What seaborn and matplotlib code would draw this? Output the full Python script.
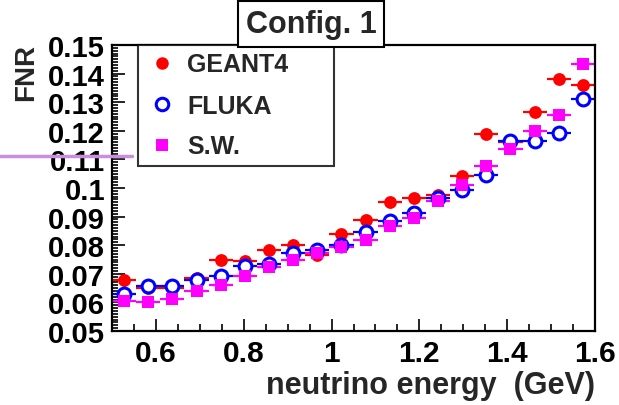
import numpy as np
import pandas as pd
import matplotlib
matplotlib.use("Agg")
import matplotlib.pyplot as plt
from matplotlib.lines import Line2D
from matplotlib.ticker import MultipleLocator
import seaborn as sns

# ---- data ----
bin_lo = 0.5
bin_width = 0.055
energy = [0.5275, 0.5825, 0.6375, 0.6925, 0.7475, 0.8025, 0.8575, 0.9125, 0.9675, 1.0225,
          1.0775, 1.1325, 1.1875, 1.2425, 1.2975, 1.3525, 1.4075, 1.4625, 1.5175, 1.5725]
geant4 = [0.0679, 0.0649, 0.0652, 0.0685, 0.0747, 0.0745, 0.0782, 0.0802, 0.0765, 0.0840,
          0.0888, 0.0951, 0.0965, 0.0974, 0.1041, 0.1188, 0.1162, 0.1265, 0.1382, 0.1359]
fluka = [0.0629, 0.0659, 0.0659, 0.0679, 0.0691, 0.0729, 0.0735, 0.0774, 0.0782, 0.0800,
         0.0847, 0.0885, 0.0912, 0.0965, 0.0994, 0.1047, 0.1165, 0.1165, 0.1194, 0.1312]
sw = [0.0606, 0.0602, 0.0612, 0.0641, 0.0661, 0.0691, 0.0724, 0.0747, 0.0774, 0.0794,
      0.0818, 0.0867, 0.0894, 0.0955, 0.1009, 0.1076, 0.1135, 0.1200, 0.1256, 0.1435]
series_names = ["GEANT4", "FLUKA", "S.W."]
x_ticks = [0.6, 0.8, 1.0, 1.2, 1.4, 1.6]
x_ticklabels = ["0.6", "0.8", "1", "1.2", "1.4", "1.6"]
y_ticks = [0.05, 0.06, 0.07, 0.08, 0.09, 0.10, 0.11, 0.12, 0.13, 0.14, 0.15]
y_ticklabels = ["0.05", "0.06", "0.07", "0.08", "0.09", "0.1", "0.11", "0.12", "0.13", "0.14", "0.15"]

df = pd.DataFrame({
    "energy": energy * 3,
    "FNR": geant4 + fluka + sw,
    "model": sum([[n] * len(energy) for n in series_names], []),
})

sns.set_style("white")
plt.rcParams["font.family"] = ["Liberation Sans", "DejaVu Sans"]
plt.rcParams["font.weight"] = "bold"

fig = plt.figure(figsize=(6.19, 4.06), dpi=100)
ax = fig.add_axes([112 / 619, 1 - 332 / 406, 483 / 619, 286 / 406])

styles = {
    "GEANT4": dict(marker="o", color="#ff0000", fill=True, s=85),
    "FLUKA": dict(marker="o", color="#0000ff", fill=False, s=85),
    "S.W.": dict(marker="s", color="#ff00ff", fill=True, s=80),
}

handles = []
for name in series_names:
    st = styles[name]
    sub = df[df["model"] == name]
    ax.errorbar(sub["energy"], sub["FNR"], xerr=bin_width / 2, fmt="none",
                ecolor=st["color"], elinewidth=1.6, capsize=0, zorder=2)
    sns.scatterplot(data=sub, x="energy", y="FNR", ax=ax, marker=st["marker"],
                    color=st["color"], s=st["s"], linewidth=0,
                    edgecolor=st["color"], zorder=3, legend=False)
    coll = ax.collections[-1]
    if not st["fill"]:
        coll.set_facecolor("white")
        coll.set_edgecolor(st["color"])
        coll.set_linewidth(2.2)
    handles.append(Line2D([], [], linestyle="none", marker=st["marker"],
                          markersize=9 if st["marker"] == "o" else 8.5,
                          markerfacecolor=st["color"] if st["fill"] else "white",
                          markeredgecolor=st["color"], markeredgewidth=2.2 if not st["fill"] else 0,
                          label=name))

ax.set_xlim(bin_lo, 1.6)
ax.set_ylim(0.05, 0.15)
ax.set_xticks(x_ticks)
ax.set_xticklabels(x_ticklabels)
ax.set_yticks(y_ticks)
ax.set_yticklabels(y_ticklabels)
ax.xaxis.set_minor_locator(MultipleLocator(0.05))
ax.yaxis.set_minor_locator(MultipleLocator(0.001))
ax.tick_params(which="both", direction="in", top=False, right=False, bottom=True, left=True,
               width=1.2, colors="black")
ax.tick_params(axis="x", which="major", length=9, pad=6, labelsize=21.5)
ax.tick_params(axis="x", which="minor", length=5)
ax.tick_params(axis="y", which="major", length=9, pad=5, labelsize=21)
ax.tick_params(axis="y", which="minor", length=4)
for lab in ax.get_xticklabels() + ax.get_yticklabels():
    lab.set_fontweight("bold")
for sp in ax.spines.values():
    sp.set_visible(True)
    sp.set_color("black")
    sp.set_linewidth(1.6)

ax.set_xlabel("neutrino energy  (GeV)", fontsize=22, fontweight="bold", loc="right")
ax.xaxis.set_label_coords(1.0, -0.135)
ax.set_ylabel("")
fig.text(26 / 619, 1 - 44 / 406, "FNR", fontsize=20, fontweight="bold", rotation=90,
         ha="center", va="top")

leg = ax.legend(handles=handles, loc="upper left", bbox_to_anchor=(0.054, 0.0, 0.406, 1.0),
                mode="expand", frameon=True, fancybox=False, edgecolor="black",
                prop={"weight": "bold", "size": 18}, borderaxespad=0,
                handletextpad=0.34, labelspacing=0.68, borderpad=0.3, handlelength=1.32)
leg.get_frame().set_linewidth(1.5)
leg.set_zorder(5)

fig.text(311 / 619, 1 - 25 / 406, "Config. 1", fontsize=22, fontweight="bold",
         ha="center", va="center",
         bbox=dict(boxstyle="square,pad=0.25", facecolor="white", edgecolor="black", linewidth=1.5),
         zorder=10)

fig.add_artist(Line2D([0, 132 / 619], [1 - 157 / 406, 1 - 157 / 406], color="#c98fdc",
                      linewidth=2.5, transform=fig.transFigure, zorder=20))

fig.savefig("out.png", dpi=100, facecolor="white")
